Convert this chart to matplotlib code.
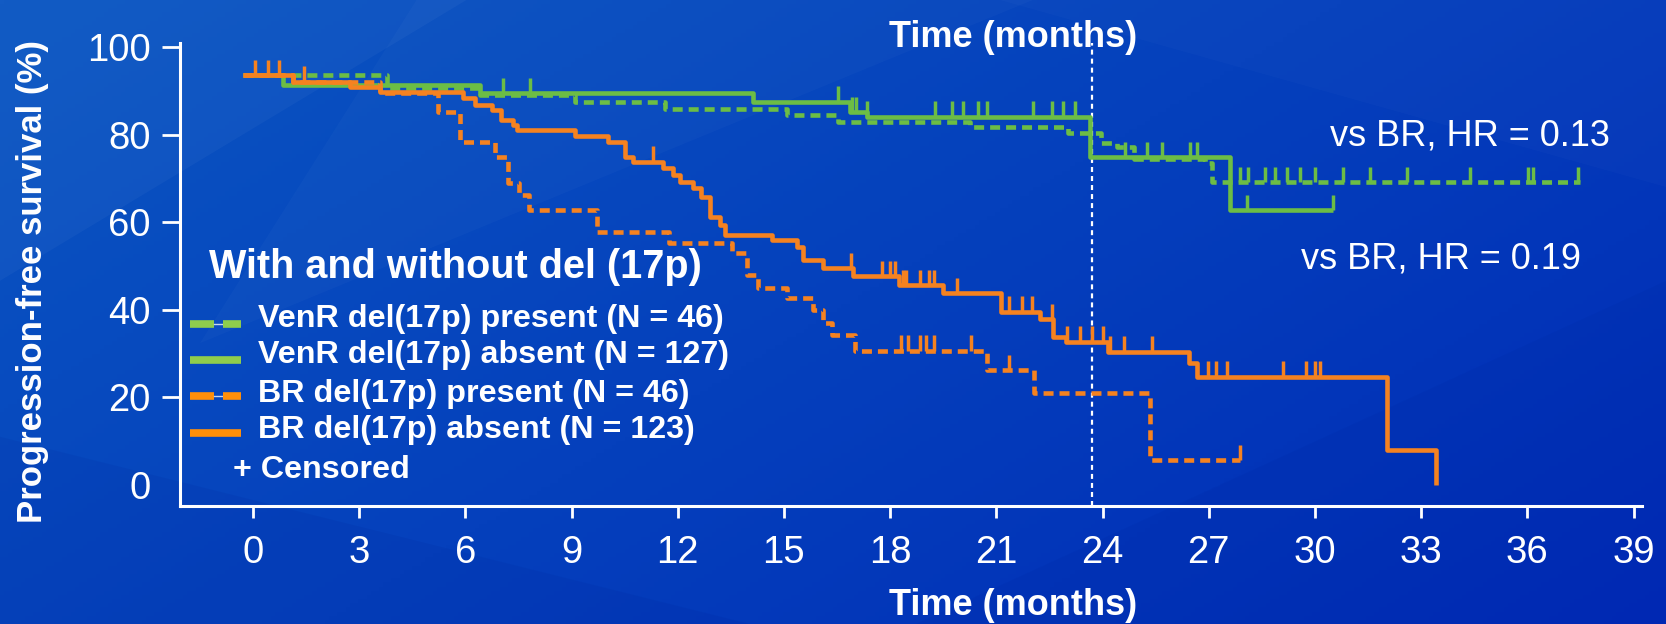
import numpy as np
import matplotlib
matplotlib.use('Agg')
import matplotlib.pyplot as plt
from matplotlib.lines import Line2D
from matplotlib.patches import Polygon

# ---- data (months, % progression-free) ----
# VenR, del(17p) absent
venr_abs_t = [-0.29, 0.86, 6.41, 14.13, 16.86, 17.34, 23.64, 27.6, 30.52]
venr_abs_s = [93.6, 91.3, 89.4, 87.5, 85.2, 84.1, 74.9, 62.8, 62.8]
venr_abs_cens = [7.07, 7.82, 16.53, 16.91, 17.05, 17.34, 19.27, 19.74, 20.07, 20.49,
                 20.73, 22.04, 22.56, 22.89, 23.22, 24.63, 25.25, 25.67, 26.47,
                 26.66, 28.07, 30.52]

# VenR, del(17p) present
venr_pre_t = [-0.29, 3.78, 6.41, 9.10, 11.64, 15.08, 16.53, 20.25, 23.03, 23.97,
              24.40, 24.9, 26.9, 27.1, 37.49]
venr_pre_s = [93.6, 90.6, 89.1, 87.5, 85.8, 84.5, 82.9, 81.7, 80.3, 78.0,
              77.2, 74.4, 73.4, 69.2, 69.2]
venr_pre_cens = [27.88, 28.12, 28.59, 28.87, 29.2, 29.58, 30.0, 30.8, 31.55, 32.59,
                 34.38, 36.03, 36.17, 37.44]

# BR, del(17p) present
br_pre_t = [-0.29, 1.14, 3.59, 5.24, 5.85, 6.84, 7.2, 7.52, 7.8, 9.73, 11.75,
            13.52, 13.95, 14.27, 15.08, 15.83, 16.11, 16.35, 17.0, 20.73, 22.07,
            25.34, 27.87]
br_pre_s = [93.6, 92.1, 89.6, 85.2, 78.4, 74.9, 68.9, 66.2, 62.8, 57.8, 55.2,
            52.9, 47.9, 44.9, 42.6, 39.9, 36.9, 34.2, 30.6, 26.2, 20.9,
            5.6, 5.6]
br_pre_cens = [18.3, 18.5, 18.85, 19.0, 19.24, 20.28, 21.37, 27.87]

# BR, del(17p) absent
br_abs_t = [-0.29, 1.14, 2.74, 3.59, 5.94, 6.27, 6.74, 7.02, 7.35, 7.45, 9.10,
            10.04, 10.51, 10.74, 11.59, 11.87, 12.06, 12.44, 12.67, 12.91, 13.19,
            13.33, 14.65, 15.36, 15.55, 16.11, 16.96, 18.25, 19.49, 21.13, 22.22,
            22.61, 22.96, 24.15, 26.43, 26.68, 32.03, 33.43]
br_abs_s = [93.6, 92.1, 90.9, 89.8, 88.3, 86.8, 85.6, 83.3, 82.2, 81.1, 79.7,
            78.4, 74.9, 73.8, 72.3, 70.8, 69.2, 67.7, 65.8, 61.2, 59.3,
            57.1, 55.9, 54.4, 51.3, 49.4, 47.7, 45.6, 43.7, 39.5, 37.8,
            33.8, 32.7, 30.4, 27.7, 24.7, 7.9, 0.0]
br_abs_cens = [0.06, 0.43, 0.73, 1.44, 11.31, 16.9, 17.76, 18.0, 18.15, 18.35,
               18.45, 18.85, 19.09, 19.24, 19.89, 21.37, 21.72, 22.02, 22.56,
               23.0, 23.36, 23.7, 24.0, 24.2, 24.6, 25.39, 26.98, 27.22, 27.52,
               29.1, 29.75, 30.0, 30.15]

legend_labels = ['VenR del(17p) present (N = 46)', 'VenR del(17p) absent (N = 127)',
                 'BR del(17p) present (N = 46)', 'BR del(17p) absent (N = 123)']
x_ticks = list(range(0, 40, 3))
y_ticks = [0, 20, 40, 60, 80, 100]
landmark = 23.7

GREEN = '#6cbd45'
ORANGE = '#f58220'
LEG_GREEN = '#8fcd4c'
LEG_ORANGE = '#ff8f0a'

plt.rcParams['font.family'] = ['Liberation Sans', 'DejaVu Sans']
plt.rcParams['lines.scale_dashes'] = False

W, H = 1666, 624
fig = plt.figure(figsize=(W / 100, H / 100), dpi=100)


def fx(x):
    return x / W


def fy(y):
    return 1 - y / H


# background: blue gradient with a few faint facets
bg = fig.add_axes([0, 0, 1, 1], zorder=0)
gx, gy = np.meshgrid(np.linspace(0, 1, 400), np.linspace(0, 1, 150))
u = np.clip(0.62 * gx + 0.38 * gy, 0, 1)
c0 = np.array([10, 86, 194]) / 255
c1 = np.array([0, 42, 182]) / 255
img = c0 * (1 - u[..., None]) + c1 * u[..., None]
bg.imshow(img, extent=[0, 1, 0, 1], origin='upper', aspect='auto')
facets = [
    ([(0, 1), (0.28, 1), (0, 0.55)], 'white', 0.035),
    ([(0.0, 0.3), (0.45, 0.0), (0.0, 0.0)], '#001a90', 0.10),
    ([(0.25, 1), (0.62, 1), (0.12, 0.45)], 'white', 0.025),
    ([(0.55, 0.0), (1.0, 0.0), (1.0, 0.55)], '#001a90', 0.08),
    ([(0.6, 1), (1.0, 1), (1.0, 0.7)], 'white', 0.02),
]
for pts, col, a in facets:
    bg.add_patch(Polygon(pts, closed=True, color=col, alpha=a, lw=0))
bg.set_xlim(0, 1)
bg.set_ylim(0, 1)
bg.axis('off')

# main axes
ax = fig.add_axes([fx(180), fy(506), (1642 - 180) / W, (506 - 42.7) / H], zorder=1)
ax.patch.set_alpha(0)
ax.set_xlim(-2.06, 39.24)
ax.set_ylim(-4.89, 101.0)
for s in ['top', 'right']:
    ax.spines[s].set_visible(False)
for s in ['left', 'bottom']:
    ax.spines[s].set_color('white')
    ax.spines[s].set_linewidth(2.2)
ax.set_xticks(x_ticks)
ax.set_yticks(y_ticks)
ax.tick_params(axis='y', colors='white', length=13, width=2, pad=8, labelsize=27.5)
ax.tick_params(axis='x', colors='white', length=8.6, width=2, pad=12, labelsize=27.5)
ax.yaxis.get_major_ticks()[0].tick1line.set_visible(False)

dash = (0, (7.2, 4.3))
curves = [
    (venr_pre_t, venr_pre_s, venr_pre_cens, GREEN, dash),
    (venr_abs_t, venr_abs_s, venr_abs_cens, GREEN, '-'),
    (br_pre_t, br_pre_s, br_pre_cens, ORANGE, dash),
    (br_abs_t, br_abs_s, br_abs_cens, ORANGE, '-'),
]
for i, (t, s, cens, col, ls) in enumerate(curves):
    ax.step(t, s, where='post', color=col, lw=3.3, ls=ls,
            solid_capstyle='butt', zorder=3 + i)
    t_arr = np.array(t)
    s_arr = np.array(s)
    idx = np.searchsorted(t_arr, cens, side='right') - 1
    lv = s_arr[np.clip(idx, 0, len(s_arr) - 1)]
    ax.vlines(cens, lv, lv + 3.5, color=col, lw=2.5, zorder=3 + i)

ax.axvline(landmark, color='white', lw=1.6, ls=(0, (3.6, 2.9)), zorder=2)

# titles / labels
fig.text(fx(1013), fy(46.7), 'Time (months)', color='white', fontsize=26,
         fontweight='bold', ha='center', va='baseline')
fig.text(fx(1013), fy(615), 'Time (months)', color='white', fontsize=26,
         fontweight='bold', ha='center', va='baseline')
fig.text(fx(33), fy(281.6), 'Progression-free survival (%)', color='white',
         fontsize=25, fontweight='bold', rotation=90, ha='center', va='center')
fig.text(fx(1469.5), fy(145), 'vs BR, HR = 0.13', color='white', fontsize=26,
         ha='center', va='baseline')
fig.text(fx(1441), fy(268.3), 'vs BR, HR = 0.19', color='white', fontsize=26,
         ha='center', va='baseline')

# legend
fig.text(fx(209), fy(278.3), 'With and without del (17p)', color='white',
         fontsize=28.5, fontweight='bold', ha='left', va='baseline')
row_base = [326.7, 363.3, 401.7, 438.3]
row_mid = [324, 360, 396, 433]
leg_cols = [LEG_GREEN, LEG_GREEN, LEG_ORANGE, LEG_ORANGE]
for k, lab in enumerate(legend_labels):
    fig.text(fx(258), fy(row_base[k]), lab, color='white', fontsize=23.2,
             fontweight='bold', ha='left', va='baseline')
    yy = [fy(row_mid[k])] * 2
    if k % 2 == 0:
        fig.add_artist(Line2D([fx(190), fx(214)], yy, transform=fig.transFigure,
                              color=leg_cols[k], lw=5.5, solid_capstyle='butt'))
        fig.add_artist(Line2D([fx(214), fx(223)], yy, transform=fig.transFigure,
                              color='#c9d6ee', lw=1.0))
        fig.add_artist(Line2D([fx(223), fx(241)], yy, transform=fig.transFigure,
                              color=leg_cols[k], lw=5.5, solid_capstyle='butt'))
    else:
        fig.add_artist(Line2D([fx(190), fx(241)], yy, transform=fig.transFigure,
                              color=leg_cols[k], lw=5.5, solid_capstyle='butt'))
fig.text(fx(233), fy(478), '+ Censored', color='white', fontsize=23.2,
         fontweight='bold', ha='left', va='baseline')

fig.savefig('out.png', dpi=100)
